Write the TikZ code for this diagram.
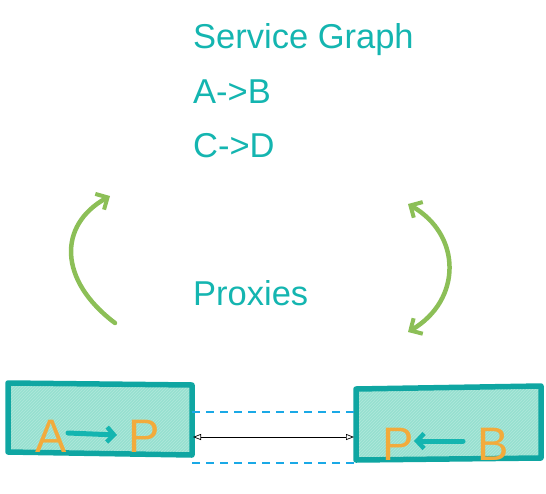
\documentclass[tikz,border=0pt]{standalone}
\usepackage{fontspec}
\setmainfont{Liberation Sans}
\usetikzlibrary{arrows.meta,patterns}
\definecolor{tealtxt}{HTML}{14B5B0}
\definecolor{boxline}{HTML}{0FA6A2}
\definecolor{boxfill}{HTML}{96E0D0}
\definecolor{orangetxt}{HTML}{F2AB3C}
\definecolor{greenarr}{HTML}{8CBF57}
\definecolor{dashblue}{HTML}{1AA9E6}
\tikzset{
  title/.style={text=tealtxt, font=\fontsize{34.5}{38}\selectfont, anchor=base west, inner sep=0pt},
  proxybox/.style={draw=boxline, fill=boxfill, line width=5.5pt, line cap=round, line join=round},
  lbl/.style={text=orangetxt, font=\fontsize{47}{50}\selectfont, inner sep=1pt},
  inarrow/.style={draw=tealtxt, line width=5pt, line cap=round, -{Straight Barb[length=7pt,width=15pt,line width=4.5pt]}},
  greenarrow/.style={draw=greenarr, line width=4.5pt, line cap=round},
  dashline/.style={draw=dashblue, line width=1.5pt, dash pattern=on 8pt off 6pt},
  conn/.style={draw=black, line width=0.7pt, {Triangle[open,length=8pt,width=6pt]}-{Triangle[open,length=8pt,width=6pt]}}
}
\begin{document}
\begin{tikzpicture}[x=1pt,y=-1pt]
\useasboundingbox (0,0) rectangle (546,493);
% titles
\node[title] (t1) at (193,48) {Service Graph};
\node[title] (t2) at (193,103) {A->B};
\node[title] (t3) at (193,157) {C->D};
\node[title] (t4) at (193,305) {Proxies};
% boxes
\draw[proxybox] (8,383) -- (192,385) -- (192,455) -- (8,452) -- cycle;
\node[minimum width=184pt, minimum height=70pt, inner sep=0pt] (lb) at (100,419) {};
\draw[proxybox] (356,389) -- (541,386) -- (541,458) -- (356,460) -- cycle;
\node[minimum width=185pt, minimum height=72pt, inner sep=0pt] (rb) at (448.5,423) {};
% hatch overlay
\fill[pattern=north east lines, pattern color=boxfill!75!white] (11,386) -- (189,388) -- (189,452) -- (11,449) -- cycle;
\fill[pattern=north east lines, pattern color=boxfill!75!white] (359,392) -- (538,389) -- (538,455) -- (359,457) -- cycle;
% box labels
\node[lbl, anchor=base] (a) at (51,452) {A};
\node[lbl, anchor=base] (p1) at (144,452) {P};
\draw[inarrow] (68,433) coordinate (as) -- (117,435) coordinate (ae);
\node[lbl, anchor=base] (p2) at (398,460) {P};
\node[lbl, anchor=base] (b) at (493,460) {B};
\draw[inarrow] (463,441) coordinate (bs) -- (414,441) coordinate (be);
% connectors between boxes
\coordinate (d1l) at (192,412); \coordinate (d1r) at (356,412);
\coordinate (d2l) at (192,463); \coordinate (d2r) at (356,463);
\draw[dashline] (d1l) -- (d1r);
\draw[dashline] (d2l) -- (d2r);
\coordinate (cl) at (193,437); \coordinate (cr) at (354,437);
\draw[conn] (cl) -- (cr);
% green arrows
\coordinate (g1s) at (115,323); \coordinate (g1e) at (110,196);
\draw[greenarrow, -{Straight Barb[length=9pt,width=18pt,line width=4pt]}] (g1s) .. controls (58,280) and (58,225) .. (g1e);
\coordinate (g2s) at (408,332); \coordinate (g2e) at (408,204);
\draw[greenarrow, {Straight Barb[length=9pt,width=18pt,line width=4pt]}-{Straight Barb[length=9pt,width=18pt,line width=4pt]}] (g2e) .. controls (462,235) and (462,300) .. (g2s);
\end{tikzpicture}
\end{document}
